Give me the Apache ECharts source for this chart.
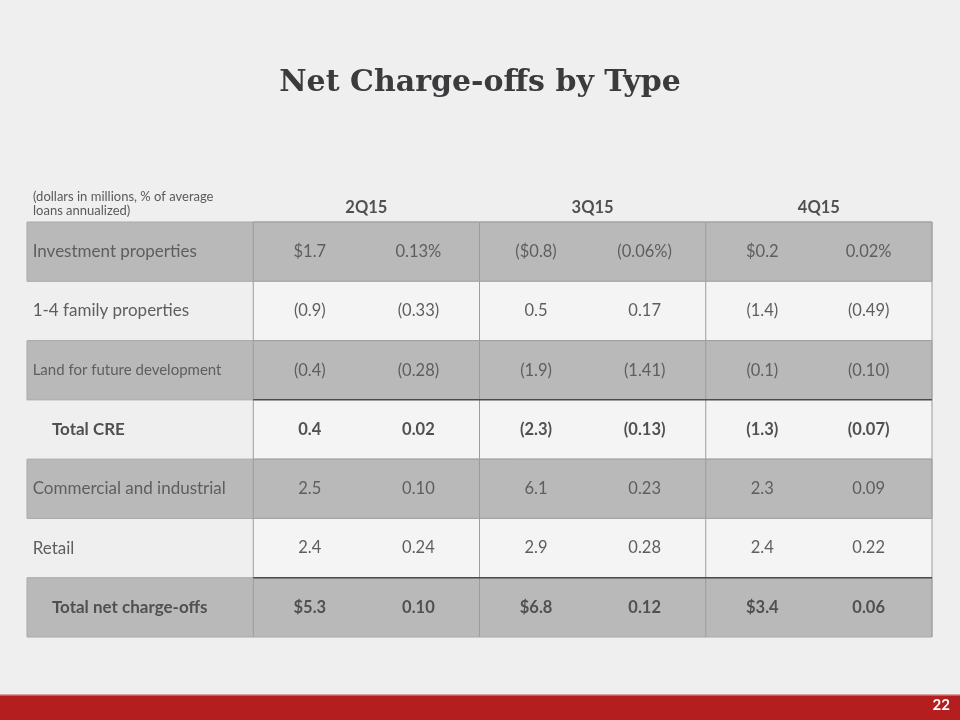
<!DOCTYPE html>
<html>
<head>
<meta charset="utf-8">
<script src="https://cdn.jsdelivr.net/npm/echarts@6/dist/echarts.min.js"></script>
<style>
html,body{margin:0;padding:0;background:#efefef;}
#chart{width:960px;height:720px;}
</style>
</head>
<body>
<div id="chart"></div>
<script>
const titleText = 'Net Charge-offs by Type';
const noteLines = ['(dollars in millions, % of average', 'loans annualized)'];
const quarters = ['2Q15', '3Q15', '4Q15'];
const rowLabels = ['Investment properties', '1-4 family properties', 'Land for future development', 'Total CRE', 'Commercial and industrial', 'Retail', 'Total net charge-offs'];
const amt2Q15 = ['$1.7', '(0.9)', '(0.4)', '0.4', '2.5', '2.4', '$5.3'];
const pct2Q15 = ['0.13%', '(0.33)', '(0.28)', '0.02', '0.10', '0.24', '0.10'];
const amt3Q15 = ['($0.8)', '0.5', '(1.9)', '(2.3)', '6.1', '2.9', '$6.8'];
const pct3Q15 = ['(0.06%)', '0.17', '(1.41)', '(0.13)', '0.23', '0.28', '0.12'];
const amt4Q15 = ['$0.2', '(1.4)', '(0.1)', '(1.3)', '2.3', '2.4', '$3.4'];
const pct4Q15 = ['0.02%', '(0.49)', '(0.10)', '(0.07)', '0.09', '0.22', '0.06'];
const totalRows = [3, 6];
const shadedRows = [0, 2, 4, 6];
const pageNumber = '22';

// layout (column units on the x value axis)
const colAmt = [2.5, 4.5, 6.5];
const colPct = [3.46, 5.46, 7.44];
const amts = [amt2Q15, amt3Q15, amt4Q15];
const pcts = [pct2Q15, pct3Q15, pct4Q15];

const chart = echarts.init(document.getElementById('chart'), null, {renderer: 'canvas'});

const bgData = rowLabels.map((_, i) => [i]);
const textData = [];
rowLabels.forEach((lab, i) => {
  const bold = totalRows.includes(i);
  textData.push({value: [bold ? 0.22 : 0.05, i + 0.5], txt: lab, align: 'left', bold: bold, size: i === 2 ? 15 : 17});
  for (let q = 0; q < 3; q++) {
    textData.push({value: [colAmt[q], i + 0.5], txt: amts[q][i], align: 'center', bold: bold, size: 16.5});
    textData.push({value: [colPct[q], i + 0.5], txt: pcts[q][i], align: 'center', bold: bold, size: 16.5});
  }
});
quarters.forEach((q, k) => {
  textData.push({value: [3 + 2 * k, -0.24], txt: q, align: 'center', bold: true, size: 16.5});
});

const FONT = 'Lato, "Noto Sans", sans-serif';

const option = {
  backgroundColor: '#efefef',
  animation: false,
  title: {
    text: titleText,
    left: 'center',
    top: 63,
    textStyle: {fontFamily: '"DejaVu Serif", serif', fontWeight: 'bold', fontSize: 30, color: '#3b3b3d'}
  },
  grid: {left: 27, right: 28, top: 222, bottom: 83},
  xAxis: {type: 'value', min: 0, max: 8, show: false},
  yAxis: {type: 'value', min: 0, max: 7, inverse: true, show: false},
  graphic: [
    {type: 'rect', left: 0, top: 695, shape: {width: 960, height: 25}, style: {fill: '#b51e1f'}, z: 1},
    {type: 'rect', left: 0, top: 694, shape: {width: 960, height: 1.5}, style: {fill: '#d9a0a0'}, z: 1},
    {type: 'text', right: 10, top: 698, style: {text: pageNumber, fill: '#ffffff', font: 'bold 15px ' + FONT}, z: 2},
    {type: 'text', left: 33, top: 190, style: {text: noteLines.join('\n'), fill: '#5a5a5a', font: '13px ' + FONT, lineHeight: 14}, z: 2}
  ],
  series: [
    {
      type: 'custom',
      coordinateSystem: 'cartesian2d',
      data: bgData,
      z: 1,
      renderItem: function (params, api) {
        const i = api.value(0);
        const a = api.coord([0, i]);
        const b = api.coord([8, i + 1]);
        const mid = api.coord([2, i]);
        const children = [];
        if (shadedRows.includes(i)) {
          children.push({type: 'rect', shape: {x: a[0], y: a[1], width: b[0] - a[0], height: b[1] - a[1]}, style: {fill: '#b9b9b9', stroke: '#a9a9a9', lineWidth: 1}});
        } else {
          children.push({type: 'rect', shape: {x: mid[0], y: a[1], width: b[0] - mid[0], height: b[1] - a[1]}, style: {fill: '#f4f4f4'}});
        }
        [2, 4, 6, 8].forEach(x => {
          const p = api.coord([x, i]);
          const q = api.coord([x, i + 1]);
          children.push({type: 'line', shape: {x1: p[0], y1: p[1], x2: q[0], y2: q[1]}, style: {stroke: '#9c9c9c', lineWidth: 1}});
        });
        const t0 = api.coord([2, i]);
        const t1 = api.coord([8, i]);
        const dark = totalRows.includes(i);
        children.push({type: 'line', shape: {x1: t0[0], y1: t0[1], x2: t1[0], y2: t1[1]}, style: {stroke: dark ? '#4a4a4a' : '#a0a0a0', lineWidth: dark ? 1.5 : 1}});
        return {type: 'group', children: children};
      }
    },
    {
      type: 'custom',
      coordinateSystem: 'cartesian2d',
      data: textData,
      z: 3,
      renderItem: function (params, api) {
        const d = textData[params.dataIndex];
        const p = api.coord([api.value(0), api.value(1)]);
        return {
          type: 'text',
          x: p[0], y: p[1],
          style: {
            text: d.txt,
            textAlign: d.align,
            textVerticalAlign: 'middle',
            fill: d.bold ? '#505050' : '#5e5e5e',
            font: (d.bold ? 'bold ' : '') + d.size + 'px ' + FONT
          }
        };
      }
    }
  ]
};
chart.setOption(option);
</script>
</body>
</html>
